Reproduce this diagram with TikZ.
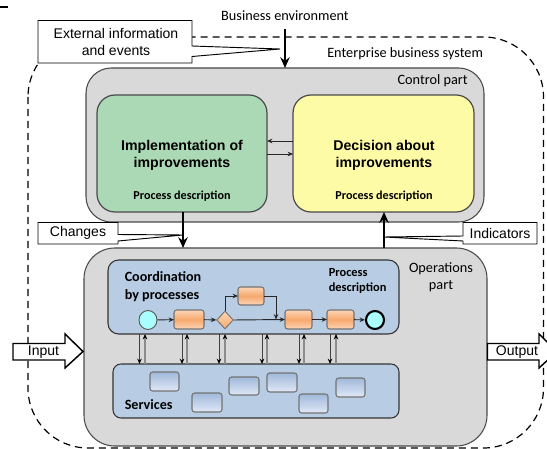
\documentclass[tikz,border=0pt]{standalone}
\usepackage{fontspec}
\setmainfont{Carlito}
\newfontfamily\arl{Liberation Sans}
\usetikzlibrary{arrows.meta,shapes.geometric}
\definecolor{partgray}{HTML}{D9D9D9}
\definecolor{edgegray}{HTML}{4A4A4A}
\definecolor{greenbox}{HTML}{ABD9B5}
\definecolor{yellowbox}{HTML}{FDFBA6}
\definecolor{bluebox}{HTML}{B8CCE4}
\definecolor{cyanev}{HTML}{A9FFFF}
\definecolor{orangetop}{HTML}{FBD5B5}
\definecolor{orangemid}{HTML}{F7A86E}
\definecolor{svctop}{HTML}{A0B8DA}
\definecolor{svcbot}{HTML}{E0E8F6}
\tikzset{
  x=0.75pt,y=-0.75pt,
  pbox/.style={draw=edgegray,line width=0.8pt,inner sep=0pt,outer sep=0pt,rectangle},
  partbox/.style={pbox,fill=partgray,rounded corners=19pt},
  mainbox/.style={pbox,rounded corners=13.5pt,line width=0.9pt},
  bluepanel/.style={pbox,fill=bluebox,rounded corners=8pt,draw=black!80},
  task/.style={pbox,draw=black!55,rounded corners=2pt,top color=orangetop,bottom color=orangetop,middle color=orangemid},
  svc/.style={pbox,draw=black!55,rounded corners=2pt,top color=svctop,bottom color=svcbot,shading angle=0},
  thin arrow/.style={draw=black!85,line width=0.7pt,-{Stealth[length=4pt,width=3.4pt]}},
  pair down/.style={draw=black!75,line width=0.6pt,-{Stealth[length=4pt,width=3.4pt,color=black]}},
  pair up/.style={draw=black!45,line width=0.8pt,-{Stealth[length=4pt,width=3.4pt,color=black]}},
  main arrow/.style={draw=black,line width=2pt,-{Stealth[length=8pt,width=7pt]}},
  callout/.style={draw=black,fill=white,line width=0.7pt},
  lbl/.style={inner sep=0pt,font=\fontsize{10.7}{12.8}\selectfont,align=center},
  arlbl/.style={inner sep=0pt,font=\arl\fontsize{10.5}{12.4}\selectfont,align=center},
  headbold/.style={inner sep=0pt,font=\arl\bfseries\fontsize{10.6}{13}\selectfont,align=center},
  subbold/.style={inner sep=0pt,font=\bfseries\fontsize{9.1}{10}\selectfont,align=center},
  panelbold/.style={inner sep=0pt,font=\bfseries\fontsize{10.6}{13}\selectfont,align=left},
}
\newcommand{\pxnode}[6]{% name, x0,y0,x1,y1, style
  \pgfmathsetmacro{\pxw}{(#4-#2)*0.75}\pgfmathsetmacro{\pxh}{(#5-#3)*0.75}
  \node[#6,minimum width=\pxw pt,minimum height=\pxh pt] (#1) at ({(#2+#4)/2},{(#3+#5)/2}) {};}
\begin{document}
\begin{tikzpicture}
\useasboundingbox (0,0) rectangle (547,449);
\clip (0,0) rectangle (547,449);
% stray letter fragment at the top-left
\fill[black] (0,6.5) rectangle (8,8.5);
% enterprise boundary
\draw[black,line width=0.9pt,dash pattern=on 5.4pt off 3.6pt,rounded corners=45pt] (28,37) rectangle (543.5,448);
% parts
\pxnode{control}{86}{68}{484}{222}{partbox}
\pxnode{impl}{97}{95}{267}{212}{mainbox,fill=greenbox}
\pxnode{deci}{293}{95}{474}{212}{mainbox,fill=yellowbox}
\pxnode{oper}{84}{248}{487}{446}{partbox,rounded corners=23pt}
\pxnode{coord}{108}{260}{399}{334}{bluepanel}
\pxnode{serv}{113}{364}{399}{418}{bluepanel,rounded corners=6pt}
% labels of the parts
\node[headbold] at (182,155.5) {Implementation of\\improvements};
\node[subbold] at (182,196.5) {Process description};
\node[headbold] at (384,155.5) {Decision about\\improvements};
\node[subbold] at (384,196.5) {Process description};
\node[lbl,anchor=east] at (468,81) {Control part};
\node[lbl] (bizenv) at (285,16) {Business environment};
\node[lbl,anchor=west] at (327,54) {Enterprise business system};
\node[lbl] at (441,277) {Operations\\part};
\node[panelbold,anchor=north west] at (124.5,271.5) {Coordination\\by processes};
\node[subbold,align=left,anchor=north west,font=\bfseries\fontsize{9.3}{11.5}\selectfont] at (328.5,268) {Process\\description};
\node[panelbold,anchor=west] at (124.5,405) {Services};
% control arrows
\draw[thin arrow] (deci.west |- 0,141) -- (impl.east |- 0,141);
\draw[thin arrow] (impl.east |- 0,154) -- (deci.west |- 0,154);
% process elements
\node[draw=black!65,fill=cyanev,ellipse,minimum width=13.5pt,minimum height=14.2pt,inner sep=0pt,line width=0.7pt] (start) at (148,320) {};
\pxnode{t1}{174}{310}{204}{329}{task}
\node[diamond,draw=black!55,top color=orangetop,bottom color=orangemid,minimum width=12.5pt,minimum height=13.5pt,inner sep=0pt,line width=0.7pt] (gate) at (225,320) {};
\pxnode{t2}{238}{287}{264}{305}{task}
\pxnode{t3}{285}{310}{312}{329}{task}
\pxnode{t4}{327}{310}{354}{329}{task}
\node[draw=black,fill=cyanev,circle,minimum size=13.5pt,inner sep=0pt,line width=1.6pt] (stop) at (375,320) {};
\coordinate (merge) at (276,319.5);
\draw[thin arrow] (start) -- (t1);
\draw[thin arrow] (t1) -- (gate);
\draw[thin arrow] (gate.north) |- (t2.west);
\draw[thin arrow] (t2.east) -| (merge);
\draw[thin arrow] (gate.east) -- (t3.west);
\draw[thin arrow] (t3) -- (t4);
\draw[thin arrow] (t4) -- (stop);
% coordination <-> services
\foreach \d/\u in {139.5/145,182/187,219/225,262/267,299/304,330/336}{
  \draw[pair down] (coord.south -| \d,0) -- (serv.north -| \d,0);
  \draw[pair up] (serv.north -| \u,0) -- (coord.south -| \u,0);
}
% services
\pxnode{s1}{150}{372}{179}{391}{svc}
\pxnode{s2}{192}{393}{222}{412}{svc}
\pxnode{s3}{229}{377}{259}{395}{svc}
\pxnode{s4}{267}{373}{297}{392}{svc}
\pxnode{s5}{299}{394}{328}{413}{svc}
\pxnode{s6}{336}{378}{365}{397}{svc}
% callouts
\draw[callout] (38,20.5) -- (192,20.5) -- (192,46) -- (280,49) -- (192,56.5) -- (192,63) -- (38,63) -- cycle;
\node[arlbl] (extinfo) at (116,42) {External information\\and events};
\draw[callout] (38,222.5) -- (118,222.5) -- (118,234.5) -- (183,235) -- (118,241) -- (118,244) -- (38,244) -- cycle;
\node[arlbl] (changes) at (78,233) {Changes};
\draw[callout] (537,222.5) -- (463,222.5) -- (463,236) -- (384,237) -- (463,241) -- (463,244) -- (537,244) -- cycle;
\node[arlbl] (indic) at (500,233) {Indicators};
% main arrows
\coordinate (envtop) at (285,29);
\draw[main arrow] (envtop) -- (control.north -| envtop);
\draw[main arrow] (impl.south -| 183,0) -- (oper.north -| 183,0);
\draw[main arrow] (oper.north -| 384,0) -- (deci.south -| 384,0);
% input / output block arrows
\draw[callout,line width=1.1pt] (13,343.5) -- (65,343.5) -- (65,334) -- (83,351.5) -- (65,368) -- (65,360) -- (13,360) -- cycle;
\node[arlbl] (inp) at (43.5,352) {Input};
\draw[callout,line width=1.1pt] (487.5,343.5) -- (539,343.5) -- (539,334) -- (557,351.5) -- (539,368) -- (539,360) -- (487.5,360) -- cycle;
\node[arlbl] (outp) at (517,352) {Output};
\end{tikzpicture}
\end{document}
